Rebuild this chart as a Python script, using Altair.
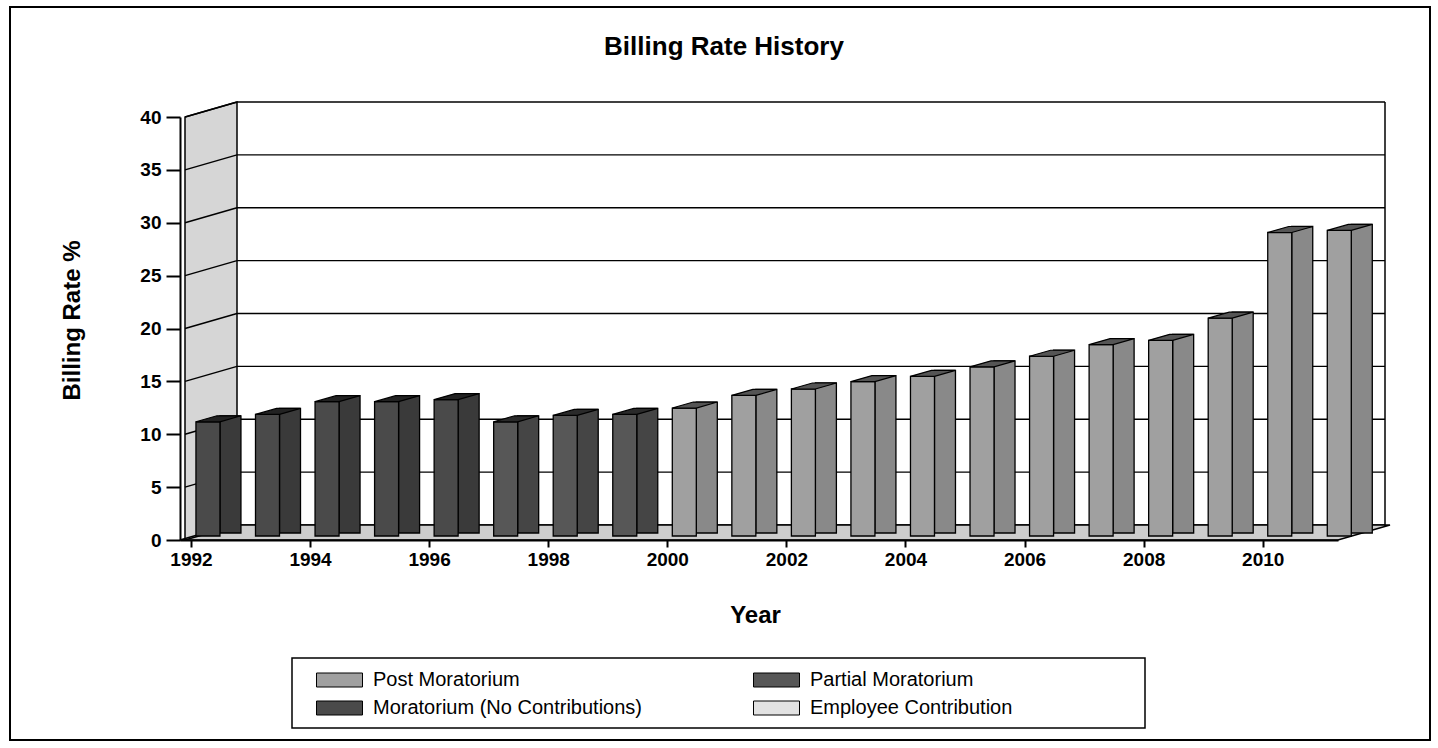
import altair as alt
import pandas as pd

# ---------------- data ----------------
years = [1992, 1993, 1994, 1995, 1996, 1997, 1998, 1999, 2000, 2001,
         2002, 2003, 2004, 2005, 2006, 2007, 2008, 2009, 2010, 2011]
rates = [10.8, 11.5, 12.7, 12.7, 12.9, 10.8, 11.4, 11.5, 12.1, 13.3,
         13.9, 14.6, 15.1, 16.0, 17.0, 18.1, 18.5, 20.6, 28.7, 28.9]
phases = ["Moratorium (No Contributions)", "Moratorium (No Contributions)",
          "Moratorium (No Contributions)", "Moratorium (No Contributions)",
          "Moratorium (No Contributions)", "Partial Moratorium",
          "Partial Moratorium", "Partial Moratorium",
          "Post Moratorium", "Post Moratorium", "Post Moratorium", "Post Moratorium",
          "Post Moratorium", "Post Moratorium", "Post Moratorium", "Post Moratorium",
          "Post Moratorium", "Post Moratorium", "Post Moratorium", "Post Moratorium"]
# legend is filled column by column
legend_order = ["Post Moratorium", "Moratorium (No Contributions)",
                "Partial Moratorium", "Employee Contribution"]
y_ticks = [0, 5, 10, 15, 20, 25, 30, 35, 40]
x_ticks = [1992, 1994, 1996, 1998, 2000, 2002, 2004, 2006, 2008, 2010]

# ---------------- style ----------------
FRONT = ["#a0a0a0", "#4a4a4a", "#575757", "#e2e2e2"]
SIDE = ["#898989", "#3a3a3a", "#454545", "#cccccc"]
TOP = ["#555555", "#222222", "#2a2a2a", "#9a9a9a"]
WALL = "#d6d6d6"
FLOOR = "#cdcdcd"
FONT = "Liberation Sans"

W, H = 1158, 423
PAD = {"left": 180, "top": 117, "right": 100, "bottom": 208}
X_DOMAIN = [1991.9, 2011.18]
Y_DOMAIN = [0, 40]
DX, DY = 52, -15          # depth of the 3-D box
FX, FW, SW, RISE, BY = 5, 24, 21, 6, -4   # bar geometry (pixels)


def poly(points):
    s = max(abs(c) for p in points for c in p)
    path = "M" + "L".join(f"{x / s:.5f},{y / s:.5f}" for x, y in points) + "Z"
    return path, (2 * s) ** 2


WALL_PATH, WALL_SIZE = poly([(-DX / 2, H / 2 - DY / 2), (-DX / 2, -H / 2 - DY / 2),
                             (DX / 2, -H / 2 + DY / 2), (DX / 2, H / 2 + DY / 2)])
FLOOR_PATH, FLOOR_SIZE = poly([(-(W + DX) / 2, -DY / 2), ((W - DX) / 2, -DY / 2),
                               ((W + DX) / 2, DY / 2), (-(W - DX) / 2, DY / 2)])
TOP_PATH, TOP_SIZE = poly([(-(FW + SW) / 2, RISE / 2), ((FW - SW) / 2, RISE / 2),
                           ((FW + SW) / 2, -RISE / 2), (-(FW - SW) / 2, -RISE / 2)])
SWATCH_PATH, SWATCH_SIZE = poly([(-23, -7), (23, -7), (23, 7), (-23, 7)])

bars = pd.DataFrame({"year": years, "rate": rates, "phase": phases})
grid = pd.DataFrame({"v": y_ticks})
one = pd.DataFrame({"k": [0]})

xs = alt.Scale(domain=X_DOMAIN, nice=False, zero=False)
ys = alt.Scale(domain=Y_DOMAIN, nice=False, zero=True)

x_axis = alt.Axis(
    values=x_ticks, format="d", grid=False, domainColor="black", domainWidth=2,
    tickColor="black", tickWidth=2, tickSize=7, labelFont=FONT, labelFontSize=19,
    labelFontWeight="bold", labelColor="black", labelPadding=3, labelFlush=False,
    labelOverlap=False, title="Year", titleFont=FONT, titleFontSize=24,
    titleFontWeight="bold", titleColor="black", titleX=575, titleY=75,
    titleAlign="center", titleBaseline="middle", zindex=1)
y_axis = alt.Axis(
    values=y_ticks, grid=False, domainColor="black", domainWidth=2,
    tickColor="black", tickWidth=2, tickSize=14, labelFont=FONT, labelFontSize=19,
    labelFontWeight="bold", labelColor="black", labelPadding=5,
    title="Billing Rate %", titleFont=FONT, titleFontSize=24, titleFontWeight="bold",
    titleColor="black", titleX=-108, titleY=203, titleAngle=270,
    titleAlign="center", titleBaseline="middle", zindex=1)


def xq(field):
    return alt.X(field, scale=xs, axis=x_axis, title="Year")


def yq(field):
    return alt.Y(field, scale=ys, axis=y_axis, title="Billing Rate %")


def xd(value):
    return alt.XDatum(value, scale=xs, axis=x_axis, title="Year")


def yd(value):
    return alt.YDatum(value, scale=ys, axis=y_axis, title="Billing Rate %")


frame = alt.Chart(one).mark_rect(fillOpacity=0, stroke="black", strokeWidth=2).encode(
    x=alt.value(-170), x2=alt.value(1250), y=alt.value(-110), y2=alt.value(623))

back_grid = alt.Chart(grid).mark_rule(
    color="black", strokeWidth=1.3, xOffset=DX, x2Offset=DX, yOffset=DY, y2Offset=DY
).encode(x=xd(X_DOMAIN[0]), x2=alt.X2Datum(X_DOMAIN[1]), y=yq("v:Q"))

back_right = alt.Chart(one).mark_rule(
    color="black", strokeWidth=1.5, xOffset=DX, yOffset=DY, y2Offset=DY
).encode(x=xd(X_DOMAIN[1]), y=yd(Y_DOMAIN[0]), y2=alt.Y2Datum(Y_DOMAIN[1]))

left_wall = alt.Chart(one).mark_point(
    shape=WALL_PATH, size=WALL_SIZE, filled=True, fill=WALL, stroke="black",
    strokeWidth=1.5, opacity=1, xOffset=DX / 2, yOffset=DY / 2
).encode(x=xd(X_DOMAIN[0]), y=yd(20))

floor = alt.Chart(one).mark_point(
    shape=FLOOR_PATH, size=FLOOR_SIZE, filled=True, fill=FLOOR, stroke="black",
    strokeWidth=1.5, opacity=1, xOffset=DX / 2, yOffset=DY / 2
).encode(x=xd((X_DOMAIN[0] + X_DOMAIN[1]) / 2), y=yd(0))

wall_diag = alt.Chart(grid).mark_rule(
    color="black", strokeWidth=1.5, x2Offset=DX, y2Offset=DY
).encode(x=xd(X_DOMAIN[0]), x2=alt.X2Datum(X_DOMAIN[0]), y=yq("v:Q"), y2=alt.Y2("v:Q"))

legend_box = alt.Chart(one).mark_rect(fill="white", stroke="black", strokeWidth=1.5).encode(
    x=alt.value(112), x2=alt.value(965), y=alt.value(541), y2=alt.value(611))

side = alt.Chart(bars).mark_bar(
    size=SW, xOffset=FX + FW + SW / 2, yOffset=BY - RISE, y2Offset=BY - RISE / 2,
    stroke="black", strokeWidth=1.3
).encode(
    x=xq("year:Q"), y=yq("rate:Q"), y2=alt.Y2Datum(0),
    color=alt.Color("phase:N", scale=alt.Scale(domain=legend_order, range=SIDE), legend=None),
)

legend = alt.Legend(
    title=None, orient="none", legendX=136, legendY=553, columns=2,
    symbolType=SWATCH_PATH, symbolSize=SWATCH_SIZE, symbolStrokeColor="black",
    symbolStrokeWidth=1, symbolOpacity=1, labelFont=FONT, labelFontSize=20,
    labelColor="black", labelOffset=10, labelLimit=500, columnPadding=111,
    rowPadding=8, clipHeight=20)

front = alt.Chart(bars).mark_bar(
    size=FW, xOffset=FX + FW / 2, yOffset=BY, y2Offset=BY,
    stroke="black", strokeWidth=1.3
).encode(
    x=xq("year:Q"), y=yq("rate:Q"), y2=alt.Y2Datum(0),
    color=alt.Color("phase:N", scale=alt.Scale(domain=legend_order, range=FRONT), legend=legend),
)

top = alt.Chart(bars).mark_point(
    shape=TOP_PATH, size=TOP_SIZE, filled=True, opacity=1, stroke="black",
    strokeWidth=1.2, xOffset=FX + (FW + SW) / 2, yOffset=BY - RISE / 2
).encode(
    x=xq("year:Q"), y=yq("rate:Q"),
    color=alt.Color("phase:N", scale=alt.Scale(domain=legend_order, range=TOP), legend=None),
)

chart = alt.layer(
    frame, back_grid, back_right, left_wall, floor, wall_diag, legend_box, side, front, top
).resolve_scale(color="independent").properties(
    width=W, height=H, padding=PAD, background="white",
    autosize=alt.AutoSizeParams(type="none"),
    title=alt.TitleParams("Billing Rate History", font=FONT, fontSize=26,
                          fontWeight="bold", color="black", anchor="middle",
                          frame="group", offset=-75, dx=-35, baseline="alphabetic"),
).configure_view(stroke=None)

chart.save("out.html", embed_options={"renderer": "svg", "actions": False})
